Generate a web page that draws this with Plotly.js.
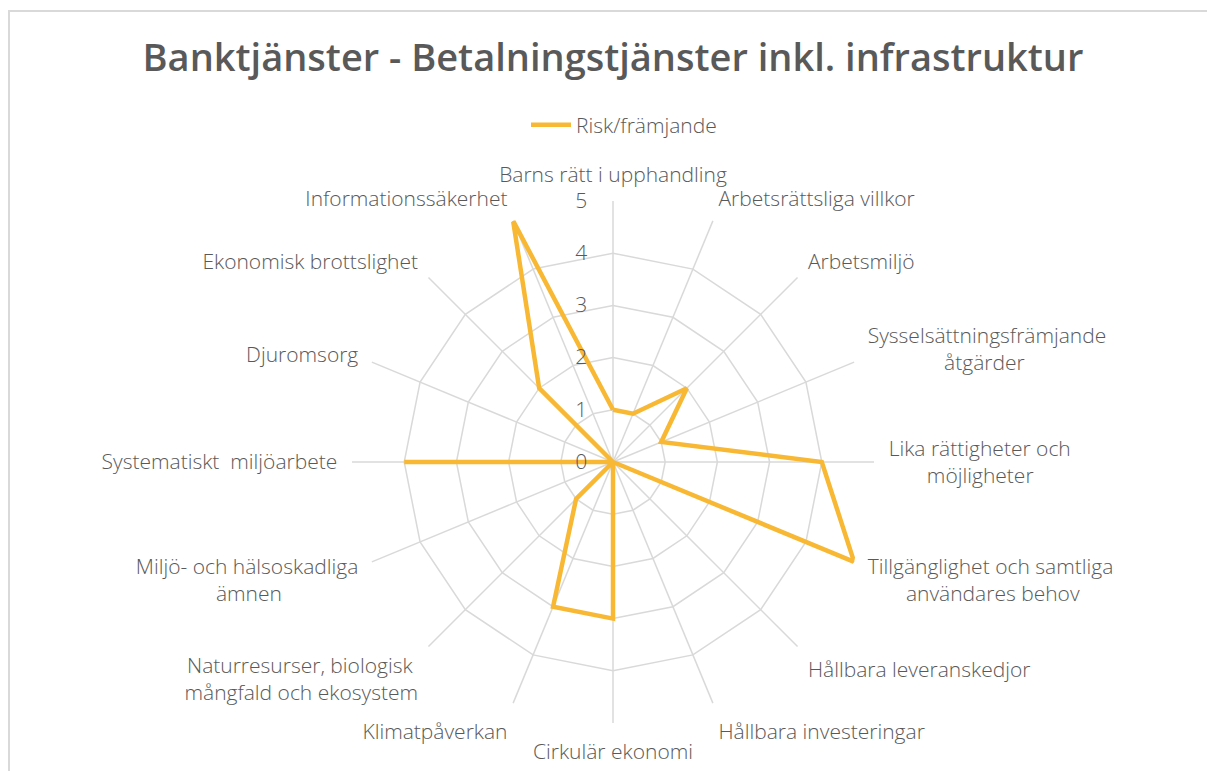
<!DOCTYPE html>
<html>
<head>
<meta charset="utf-8">
<script src="https://cdn.plot.ly/plotly-3.0.1.min.js"></script>
<style>
html,body{margin:0;padding:0;background:#fff;}
#chart{width:1207px;height:771px;}
</style>
</head>
<body>
<div id="chart"></div>
<script>
const categories = [
  "Barns rätt i upphandling",
  "Arbetsrättsliga villkor",
  "Arbetsmiljö",
  "Sysselsättningsfrämjande<br>åtgärder",
  "Lika rättigheter och<br>möjligheter",
  "Tillgänglighet och samtliga<br>användares behov",
  "Hållbara leveranskedjor",
  "Hållbara investeringar",
  "Cirkulär ekonomi",
  "Klimatpåverkan",
  "Naturresurser, biologisk<br>mångfald och ekosystem",
  "Miljö- och hälsoskadliga<br>ämnen",
  "Systematiskt  miljöarbete",
  "Djuromsorg",
  "Ekonomisk brottslighet",
  "Informationssäkerhet"
];
const riskValues = [1, 1, 2, 1, 4, 5, 0, 0, 3, 3, 1, 0, 4, 0, 2, 5];
const seriesName = "Risk/främjande";
const radialTicks = [0, 1, 2, 3, 4, 5];

const FONT = "'Open Sans', sans-serif";
const GRAY = "#595959";
const LABEL_SIZE = 21;

// centre multi-line labels by padding shorter lines with no-break spaces
const ctx = document.createElement("canvas").getContext("2d");
ctx.font = "300 " + LABEL_SIZE + "px 'Open Sans'";
const nbspW = ctx.measureText("\u00A0").width || LABEL_SIZE * 0.26;
const n = categories.length;
const tickText = categories.map(function (c, i) {
  if (c.indexOf("<br>") < 0) return c;
  const lines = c.split("<br>");
  const widths = lines.map(function (l) { return ctx.measureText(l).width; });
  const maxW = Math.max.apply(null, widths);
  const deg = i * 360 / n;
  const rightSide = deg > 0 && deg < 180;
  return lines.map(function (l, k) {
    const pad = "\u00A0".repeat(Math.round((maxW - widths[k]) / 2 / nbspW));
    return rightSide ? pad + l : l + pad;
  }).join("<br>");
});

const trace = {
  type: "scatterpolar",
  mode: "lines",
  name: seriesName,
  r: riskValues.concat([riskValues[0]]),
  theta: categories.concat([categories[0]]),
  line: {color: "#F8B833", width: 4.5},
  showlegend: true
};

const W = 1207, H = 771, cx = 613, cy = 462, R = 261;
const labelFont = {family: FONT, size: LABEL_SIZE, color: GRAY, weight: 300};

const layout = {
  width: W, height: H,
  margin: {l: 0, r: 0, t: 0, b: 0},
  paper_bgcolor: "#ffffff",
  font: {family: FONT, color: GRAY, size: LABEL_SIZE},
  title: {
    text: "Banktjänster - Betalningstjänster inkl. infrastruktur",
    font: {family: FONT, size: 38, color: GRAY, weight: 600},
    x: cx / W, xanchor: "center",
    y: 1 - 58 / H, yanchor: "middle"
  },
  showlegend: true,
  legend: {
    orientation: "h",
    x: 624 / W, xanchor: "center",
    y: 1 - 125 / H, yanchor: "middle",
    font: labelFont,
    itemwidth: 40
  },
  polar: {
    domain: {
      x: [(cx - R) / W, (cx + R) / W],
      y: [(H - cy - R) / H, (H - cy + R) / H]
    },
    bgcolor: "rgba(0,0,0,0)",
    gridshape: "linear",
    angularaxis: {
      direction: "clockwise",
      rotation: 90,
      showline: false,
      gridcolor: "#d9d9d9",
      gridwidth: 1.5,
      tickmode: "array",
      tickvals: categories,
      ticktext: tickText,
      ticks: "outside",
      ticklen: 10,
      tickcolor: "rgba(0,0,0,0)",
      tickfont: labelFont
    },
    radialaxis: {
      range: [0, 5],
      tickvals: radialTicks,
      angle: 90,
      side: "counterclockwise",
      showline: false,
      gridcolor: "#d9d9d9",
      gridwidth: 1.5,
      ticks: "outside",
      ticklen: 18,
      tickcolor: "rgba(0,0,0,0)",
      tickangle: 90,
      tickfont: labelFont
    }
  },
  shapes: [{
    type: "rect", xref: "paper", yref: "paper",
    x0: 9 / W, x1: 1.05, y0: -0.05, y1: 1 - 11 / H,
    line: {color: "#d9d9d9", width: 2},
    fillcolor: "rgba(0,0,0,0)"
  }]
};

Plotly.newPlot("chart", [trace], layout, {displayModeBar: false, staticPlot: true});
</script>
</body>
</html>
